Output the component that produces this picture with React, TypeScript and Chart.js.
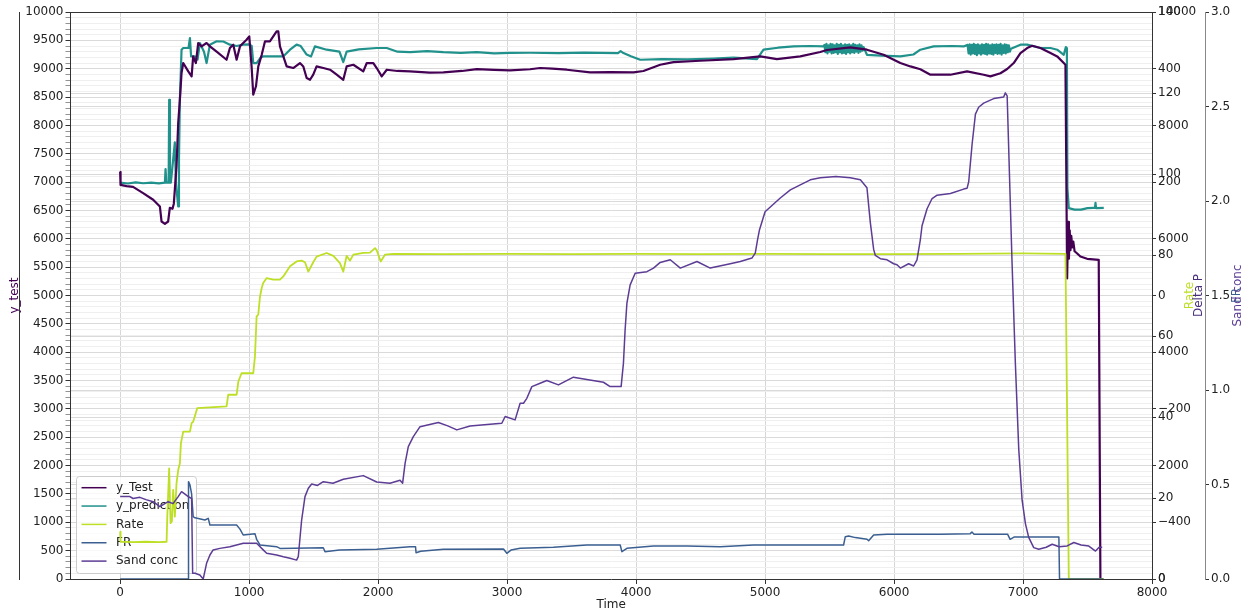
import React, { useEffect, useRef } from 'react';
import { Chart, registerables } from 'chart.js';

Chart.register(...registerables);

// ---------------- data ----------------
const yTestTime = [0, 3, 50, 100, 178, 256, 308, 321, 347, 372, 385, 406, 416, 437, 450, 463, 476, 489, 528, 554, 566, 587, 605, 631, 670, 696, 748, 825, 851, 877, 903, 929, 954, 980, 1001, 1019, 1032, 1053, 1071, 1097, 1123, 1161, 1187, 1213, 1226, 1239, 1265, 1291, 1342, 1394, 1420, 1446, 1472, 1497, 1523, 1575, 1627, 1679, 1730, 1756, 1808, 1885, 1912, 1963, 1989, 2028, 2067, 2150, 2247, 2400, 2506, 2650, 2765, 2900, 3023, 3178, 3256, 3350, 3463, 3644, 3800, 3980, 4057, 4187, 4290, 4497, 4756, 4963, 5092, 5273, 5428, 5480, 5661, 5790, 5919, 6049, 6127, 6204, 6282, 6437, 6566, 6695, 6747, 6825, 6877, 6928, 6980, 7032, 7071, 7135, 7213, 7265, 7316, 7329, 7342, 7350, 7356, 7362, 7368, 7374, 7382, 7390, 7400, 7420, 7445, 7497, 7587, 7600, 7625];
const yTestValues = [7180, 6950, 6930, 6915, 6806, 6688, 6570, 6305, 6264, 6305, 6546, 6530, 6620, 7276, 8041, 8452, 8924, 9100, 8952, 8864, 9217, 9100, 9453, 9394, 9453, 9394, 9300, 9158, 9365, 9424, 9158, 9394, 9453, 9511, 9570, 9040, 8541, 8690, 9040, 9240, 9483, 9483, 9570, 9658, 9658, 9394, 9217, 9040, 9012, 9100, 9040, 8835, 8805, 8894, 9040, 9012, 8982, 8894, 8805, 9040, 9070, 8953, 9100, 9100, 9012, 8864, 8982, 8960, 8953, 8930, 8935, 8960, 8994, 8980, 8970, 8990, 9012, 9000, 8982, 8935, 8940, 8935, 8960, 9070, 9117, 9140, 9170, 9217, 9170, 9217, 9294, 9330, 9376, 9335, 9245, 9100, 9040, 8990, 8894, 8894, 8953, 8894, 8864, 8920, 8994, 9100, 9276, 9365, 9405, 9365, 9276, 9217, 9100, 9070, 5300, 6300, 5650, 6150, 5800, 6050, 5850, 5950, 5780, 5740, 5687, 5647, 5629, 0, 0];

const yPredTime = [0, 60, 120, 180, 240, 300, 347, 352, 358, 376, 380, 386, 393, 424, 432, 450, 456, 463, 476, 489, 530, 541, 550, 580, 600, 618, 650, 670, 696, 748, 800, 851, 903, 954, 1000, 1020, 1032, 1058, 1090, 1109, 1264, 1317, 1368, 1400, 1446, 1480, 1510, 1601, 1700, 1730, 1756, 1850, 1989, 2067, 2150, 2247, 2380, 2506, 2640, 2765, 2900, 3023, 3178, 3400, 3600, 3860, 3880, 3902, 3960, 4032, 4200, 4400, 4600, 4756, 4937, 4988, 5100, 5221, 5350, 5454,
  5460, 5468, 5476, 5484, 5492, 5500, 5508, 5516, 5524, 5532, 5540, 5548, 5556, 5564, 5572, 5580, 5588, 5596, 5604, 5612, 5620, 5628, 5636, 5644, 5652, 5660, 5668, 5676, 5684, 5692, 5700, 5708, 5716, 5724, 5732, 5740, 5748, 5756, 5764,
  5790, 5900, 6049, 6150, 6204, 6307, 6450, 6540,
  6570, 6578, 6586, 6594, 6602, 6610, 6618, 6626, 6634, 6642, 6650, 6658, 6666, 6674, 6682, 6690, 6698, 6706, 6714, 6722, 6730, 6738, 6746, 6754, 6762, 6770, 6778, 6786, 6794, 6802, 6810, 6818, 6826, 6834, 6842, 6850, 6858, 6866, 6874, 6882, 6890, 6898, 6906,
  6980, 7032, 7135, 7213, 7265, 7316, 7332, 7340, 7344, 7355, 7400, 7450, 7500, 7550, 7558, 7562, 7566, 7626];
const yPredValues = [6990, 6975, 6995, 6980, 6990, 6978, 6990, 7230, 6990, 6990, 8452, 6990, 6990, 7700, 7000, 6570, 7400, 8452, 9335, 9365, 9365, 9540, 9217, 9217, 9160, 9453, 9300, 9100, 9424, 9483, 9480, 9424, 9400, 9424, 9430, 9400, 9100, 9100, 9200, 9216, 9216, 9335, 9424, 9400, 9250, 9216, 9394, 9335, 9300, 9118, 9300, 9340, 9365, 9365, 9300, 9292, 9310, 9292, 9280, 9292, 9270, 9280, 9281, 9276, 9285, 9276, 9310, 9276, 9220, 9158, 9170, 9165, 9180, 9194, 9170, 9335, 9370, 9393, 9400, 9393,
  9420, 9290, 9440, 9270, 9410, 9300, 9440, 9270, 9430, 9280, 9410, 9290, 9440, 9260, 9420, 9290, 9440, 9270, 9410, 9280, 9430, 9260, 9420, 9290, 9430, 9270, 9410, 9290, 9440, 9280, 9420, 9300, 9410, 9280, 9430, 9300, 9410, 9320, 9380,
  9245, 9230, 9217, 9250, 9335, 9393, 9400, 9393,
  9420, 9270, 9430, 9250, 9420, 9270, 9440, 9260, 9420, 9240, 9430, 9270, 9410, 9250, 9430, 9270, 9420, 9260, 9440, 9250, 9430, 9270, 9410, 9260, 9430, 9250, 9420, 9280, 9430, 9260, 9420, 9270, 9440, 9250, 9410, 9280, 9430, 9270, 9420, 9290, 9410, 9300, 9350,
  9424, 9424, 9365, 9365, 9335, 9245, 9380, 9365, 6900, 6540, 6515, 6515, 6540, 6545, 6545, 6635, 6540, 6545];

// Rate in bpm (right axis 0-140)
const rateTime = [0, 3, 100, 200, 300, 360, 365, 380, 391, 401, 411, 424, 437, 450, 463, 471, 489, 541, 554, 566, 598, 696, 825, 838, 903, 916, 941, 1032, 1045, 1058, 1071, 1084, 1097, 1109, 1136, 1187, 1239, 1265, 1317, 1368, 1407, 1433, 1459, 1497, 1523, 1601, 1653, 1704, 1730, 1756, 1782, 1808, 1885, 1937, 1976, 1989, 2020, 2054, 2118, 2500, 3000, 3500, 4000, 4500, 5000, 5500, 6000, 6500, 7000, 7329, 7355, 7625];
const rateValues = [11.7, 9.2, 9.1, 9.2, 9.1, 9.2, 15.0, 27.3, 13.8, 14.2, 22.0, 15.4, 23.6, 26.9, 28.6, 33.5, 36.4, 36.4, 38.5, 38.8, 42.2, 42.4, 42.6, 45.5, 45.5, 48.7, 50.8, 50.8, 54.9, 64.8, 65.3, 69.7, 71.8, 73.1, 74.3, 73.9, 73.9, 74.7, 77.2, 78.4, 78.6, 78.2, 75.9, 78.2, 79.6, 80.5, 79.8, 78.0, 75.9, 79.8, 78.6, 80.1, 80.5, 80.6, 81.7, 81.2, 78.4, 80.1, 80.3, 80.2, 80.3, 80.2, 80.3, 80.2, 80.3, 80.2, 80.2, 80.3, 80.4, 80.3, 0, 0];

// FR (right axis 0-10000)
const frTime = [0, 528, 530, 541, 554, 566, 580, 657, 683, 696, 903, 929, 954, 1045, 1058, 1084, 1213, 1239, 1575, 1588, 1700, 1989, 2247, 2290, 2294, 2330, 2506, 2972, 2998, 3030, 3101, 3359, 3618, 3877, 3890, 3929, 4135, 4394, 4652, 4911, 5170, 5609, 5622, 5648, 5700, 5791, 5803, 5842, 5946, 6359, 6591, 6604, 6620, 6880, 6900, 6930, 7278, 7283, 7620];
const frValues = [0, 0, 1717, 1660, 1500, 1100, 1080, 1041, 1070, 953, 953, 880, 776, 800, 700, 600, 570, 540, 550, 482, 510, 524, 570, 570, 464, 490, 524, 530, 453, 510, 541, 560, 600, 600, 482, 541, 582, 582, 570, 600, 600, 600, 747, 760, 730, 700, 674, 776, 788, 790, 800, 830, 790, 790, 700, 740, 740, 0, 0];

// Sand conc in ppg (right axis 0-3)
const sandTime = [0, 76, 100, 153, 200, 256, 308, 340, 372, 410, 450, 476, 500, 528, 554, 562, 580, 618, 644, 670, 696, 721, 773, 851, 903, 954, 1058, 1109, 1136, 1213, 1265, 1317, 1368, 1381, 1407, 1433, 1459, 1485, 1530, 1575, 1650, 1730, 1885, 1989, 2092, 2170, 2190, 2209, 2234, 2273, 2325, 2467, 2540, 2610, 2713, 2868, 2959, 2985, 3062, 3101, 3127, 3153, 3192, 3256, 3308, 3398, 3514, 3618, 3747, 3799, 3884, 3902, 3915, 3929, 3954, 3993, 4084, 4135, 4187, 4265, 4343, 4472, 4575, 4730, 4808, 4898, 4924, 4942, 4957, 5000, 5118, 5196, 5273, 5351, 5428, 5550, 5661, 5739, 5790, 5816, 5842, 5855, 5894, 5946, 5997, 6023, 6049, 6113, 6152, 6178, 6204, 6217, 6256, 6295, 6334, 6437, 6540, 6566, 6579, 6605, 6631, 6656, 6695, 6773, 6850, 6863, 6877, 6915, 6941, 6967, 6993, 7019, 7044, 7083, 7122, 7180, 7226, 7280, 7342, 7394, 7450, 7510, 7562, 7590, 7614];
const sandValues = [0.436, 0.436, 0.426, 0.432, 0.42, 0.409, 0.383, 0.396, 0.409, 0.399, 0.436, 0.462, 0.45, 0.436, 0.426, 0.03, 0.03, 0.021, 0, 0.083, 0.127, 0.154, 0.162, 0.171, 0.18, 0.189, 0.189, 0.154, 0.136, 0.127, 0.118, 0.11, 0.1, 0.118, 0.312, 0.436, 0.48, 0.503, 0.495, 0.515, 0.507, 0.528, 0.547, 0.513, 0.507, 0.522, 0.507, 0.612, 0.7, 0.753, 0.806, 0.828, 0.81, 0.789, 0.81, 0.819, 0.824, 0.86, 0.842, 0.93, 0.93, 0.956, 1.018, 1.036, 1.05, 1.027, 1.068, 1.056, 1.041, 1.018, 1.018, 1.142, 1.318, 1.46, 1.556, 1.618, 1.626, 1.645, 1.675, 1.689, 1.645, 1.68, 1.645, 1.668, 1.68, 1.698, 1.724, 1.795, 1.848, 1.943, 2.016, 2.059, 2.085, 2.112, 2.123, 2.13, 2.123, 2.112, 2.07, 1.887, 1.744, 1.712, 1.695, 1.689, 1.668, 1.663, 1.645, 1.668, 1.656, 1.689, 1.795, 1.869, 1.959, 2.013, 2.031, 2.04, 2.063, 2.067, 2.102, 2.299, 2.46, 2.496, 2.518, 2.542, 2.55, 2.572, 2.556, 1.673, 1.135, 0.686, 0.417, 0.292, 0.22, 0.166, 0.157, 0.168, 0.184, 0.171, 0.175, 0.193, 0.18, 0.174, 0.148, 0.168, 0.168];

// tick labels and axis ranges
const xTicks = [0, 1000, 2000, 3000, 4000, 5000, 6000, 7000, 8000];
const leftMajorTicks = [0, 500, 1000, 1500, 2000, 2500, 3000, 3500, 4000, 4500, 5000, 5500, 6000, 6500, 7000, 7500, 8000, 8500, 9000, 9500, 10000];
const frTicks = [0, 2000, 4000, 6000, 8000, 10000];
const rateTicks = [0, 20, 40, 60, 80, 100, 120, 140];
const deltaPTicks = [-400, -200, 0, 200, 400];
const sandTicks = [0, 0.5, 1.0, 1.5, 2.0, 2.5, 3.0];
const frRange = [0, 10000];
const rateRange = [0, 140];
const deltaPRange = [-500, 500];
const sandRange = [0, 3];

// ---------------- style ----------------
const C_TEST = '#440154';
const C_PRED = '#21918c';
const C_RATE = '#bddf26';
const C_FR = '#3b5f91';
const C_SAND = '#5c3c94';
const C_DELTA = '#472d7b';
const TEXT = '#222222';
const FONT = "'DejaVu Sans', sans-serif";

const zip = (xs: number[], ys: number[]) => xs.map((x, i) => ({ x, y: ys[i] }));
const minus = (v: number) => (v < 0 ? '\u2212' + Math.abs(v) : String(v));

const legendPlugin = {
  id: 'boxLegend',
  beforeDatasetsDraw(chart: any) {
    const ctx = chart.ctx;
    const x0 = 76.5, y0 = 476.5, w = 120, h = 97, r = 3;
    ctx.save();
    ctx.beginPath();
    ctx.moveTo(x0 + r, y0);
    ctx.lineTo(x0 + w - r, y0);
    ctx.arcTo(x0 + w, y0, x0 + w, y0 + r, r);
    ctx.lineTo(x0 + w, y0 + h - r);
    ctx.arcTo(x0 + w, y0 + h, x0 + w - r, y0 + h, r);
    ctx.lineTo(x0 + r, y0 + h);
    ctx.arcTo(x0, y0 + h, x0, y0 + h - r, r);
    ctx.lineTo(x0, y0 + r);
    ctx.arcTo(x0, y0, x0 + r, y0, r);
    ctx.closePath();
    ctx.fillStyle = 'rgba(255,255,255,0.8)';
    ctx.fill();
    ctx.strokeStyle = '#cccccc';
    ctx.lineWidth = 1;
    ctx.stroke();
    ctx.font = `12px ${FONT}`;
    ctx.textBaseline = 'middle';
    ctx.textAlign = 'left';
    chart.data.datasets.forEach((ds: any, i: number) => {
      const y = 487.7 + i * 18.35;
      ctx.strokeStyle = ds.borderColor;
      ctx.lineWidth = 1.5;
      ctx.beginPath();
      ctx.moveTo(81.5, y);
      ctx.lineTo(106.5, y);
      ctx.stroke();
      ctx.fillStyle = TEXT;
      ctx.fillText(ds.label, 116, y);
    });
    ctx.restore();
  },
};

const rightTitles = [
  { text: 'Rate', color: C_RATE, dx: 38 },
  { text: 'Delta P', color: C_DELTA, dx: 46.5 },
  { text: 'FR', color: C_FR, dx: 85 },
  { text: 'Sand conc', color: C_SAND, dx: 86 },
];

const framePlugin = {
  id: 'frameTitles',
  afterDraw(chart: any) {
    const { ctx, chartArea: a } = chart;
    ctx.save();
    ctx.strokeStyle = '#333333';
    ctx.lineWidth = 1;
    ctx.beginPath();
    ctx.moveTo(a.left, a.top + 0.5);
    ctx.lineTo(a.right, a.top + 0.5);
    ctx.stroke();
    const cy = (a.top + a.bottom) / 2;
    ctx.font = `12px ${FONT}`;
    ctx.textAlign = 'center';
    ctx.textBaseline = 'middle';
    for (const t of rightTitles) {
      ctx.save();
      ctx.translate(a.right + t.dx, cy);
      ctx.rotate(-Math.PI / 2);
      ctx.fillStyle = t.color;
      ctx.fillText(t.text, 0, 0);
      ctx.restore();
    }
    ctx.restore();
  },
};

export default function App() {
  const ref = useRef<HTMLCanvasElement | null>(null);

  useEffect(() => {
    if (!ref.current) return;
    Chart.defaults.font.family = FONT;
    Chart.defaults.font.size = 12;
    Chart.defaults.color = TEXT;

    const minorTicks: number[] = [];
    for (let v = 0; v <= 10000; v += 100) minorTicks.push(v);
    const isMajor = (v: number) => leftMajorTicks.includes(v);

    // Twin right axes that share the same spine: their ticks are mapped onto the Rate scale.
    const toRate = (v: number, range: number[]) =>
      rateRange[0] + ((v - range[0]) / (range[1] - range[0])) * (rateRange[1] - rateRange[0]);
    const sharedRightTicks = [
      ...frTicks.map((v) => ({ value: toRate(v, frRange), lab: String(v) })),
      ...rateTicks.map((v) => ({ value: v, lab: String(v) })),
      ...deltaPTicks.map((v) => ({ value: toRate(v, deltaPRange), lab: minus(v) })),
    ];

    const line = (label: string, xs: number[], ys: number[], color: string, axis: string, width: number, order: number) => ({
      label,
      data: zip(xs, ys),
      yAxisID: axis,
      borderColor: color,
      backgroundColor: color,
      borderWidth: width,
      pointRadius: 0,
      tension: 0,
      fill: false,
      order,
      borderJoinStyle: 'round' as const,
    });

    const chart = new Chart(ref.current, {
      type: 'line',
      data: {
        datasets: [
          line('y_Test', yTestTime, yTestValues, C_TEST, 'yT', 2.2, 4),
          line('y_prediction', yPredTime, yPredValues, C_PRED, 'y', 2.2, 5),
          line('Rate', rateTime, rateValues, C_RATE, 'yRate', 1.8, 3),
          line('FR', frTime, frValues, C_FR, 'yFR', 1.5, 2),
          line('Sand conc', sandTime, sandValues, C_SAND, 'ySand', 1.5, 1),
        ],
      },
      options: {
        responsive: false,
        devicePixelRatio: 1,
        animation: false,
        events: [],
        layout: { padding: { top: 12, left: 0, right: 0, bottom: 0 } },
        plugins: { legend: { display: false }, tooltip: { enabled: false } },
        scales: {
          x: {
            type: 'linear',
            min: -385,
            max: 8000,
            afterBuildTicks: (s: any) => { s.ticks = xTicks.map((v) => ({ value: v })); },
            afterFit: (s: any) => { s.height = 34; },
            ticks: { callback: (v: any) => String(v), maxRotation: 0, autoSkip: false, padding: 2, color: TEXT },
            grid: { color: '#d6d6d6', tickLength: 5, tickColor: '#333333' },
            border: { color: '#333333' },
            title: { display: true, text: 'Time', color: TEXT, padding: { top: 0, bottom: 1 } },
          },
          y: {
            position: 'left',
            weight: 0,
            min: 0,
            max: 10000,
            afterBuildTicks: (s: any) => { s.ticks = minorTicks.map((v) => ({ value: v })); },
            afterFit: (s: any) => { s.width = 51.5; },
            ticks: { autoSkip: false, padding: 2, color: TEXT, callback: (v: any) => (isMajor(v) ? String(v) : '') },
            grid: {
              color: (c: any) => (c.tick && isMajor(c.tick.value) ? '#dadada' : '#efefef'),
              tickLength: 5,
              tickColor: (c: any) => (c.tick && isMajor(c.tick.value) ? '#333333' : '#777777'),
              tickWidth: (c: any) => (c.tick && isMajor(c.tick.value) ? 1 : 0.8),
            },
            border: { color: '#333333' },
          },
          yT: {
            position: 'left',
            weight: 1,
            min: 0,
            max: 10000,
            afterFit: (s: any) => { s.width = 19; },
            ticks: { display: false },
            grid: { display: true, drawOnChartArea: false, drawTicks: false },
            border: { display: true, color: '#333333' },
            title: { display: true, text: 'y_test', color: C_TEST, padding: { top: 8, bottom: 0 } },
          },
          yFR: {
            display: false,
            min: frRange[0],
            max: frRange[1],
          },
          yRate: {
            position: 'right',
            weight: 0,
            min: rateRange[0],
            max: rateRange[1],
            afterBuildTicks: (s: any) => { s.ticks = sharedRightTicks.map((t) => ({ ...t })); },
            afterFit: (s: any) => { s.width = 53; },
            ticks: { autoSkip: false, padding: 2, color: TEXT, callback: (_v: any, i: number, ticks: any[]) => ticks[i].lab },
            grid: { color: '#dadada', tickLength: 4, tickColor: '#333333' },
            border: { color: '#333333' },
          },
          ySand: {
            position: 'right',
            weight: 1,
            min: sandRange[0],
            max: sandRange[1],
            afterBuildTicks: (s: any) => { s.ticks = sandTicks.map((v) => ({ value: v })); },
            afterFit: (s: any) => { s.width = 44; },
            ticks: { autoSkip: false, padding: 2, color: TEXT, callback: (v: any) => Number(v).toFixed(1) },
            grid: { color: '#dadada', tickLength: 4, tickColor: '#333333' },
            border: { color: '#888888' },
          },
        },
      } as any,
      plugins: [legendPlugin, framePlugin],
    });
    return () => chart.destroy();
  }, []);

  return (
    <div style={{ position: 'fixed', left: 0, top: 0, width: 1249, height: 613, background: '#ffffff' }}>
      <canvas ref={ref} width={1249} height={613} style={{ display: 'block' }} />
    </div>
  );
}
